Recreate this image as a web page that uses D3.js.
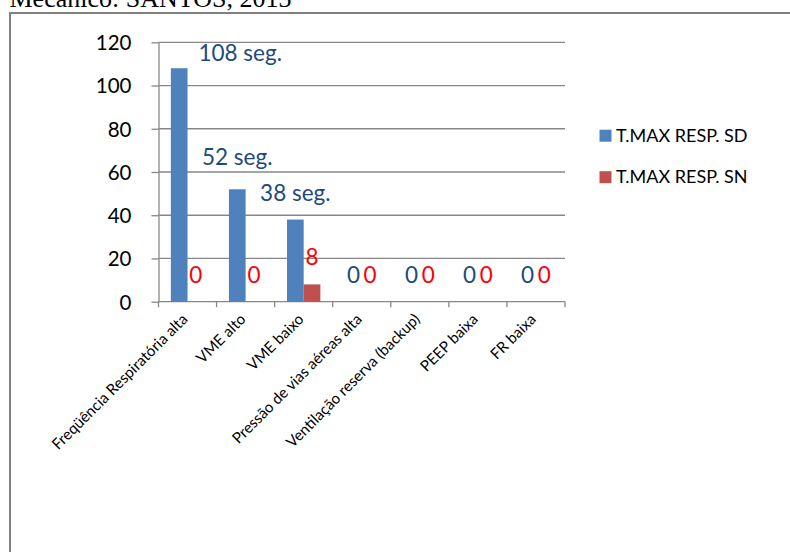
<!DOCTYPE html>
<html>
<head>
<meta charset="utf-8">
<script src="https://cdn.jsdelivr.net/npm/d3@7"></script>
<style>
  html, body { margin: 0; padding: 0; background: #fff; }
  svg { display: block; }
</style>
</head>
<body>
<svg id="chart" width="790" height="552"></svg>
<script>
// Alarm categories and the two response-time series
const categories = [
  "Freqüência Respiratória alta",
  "VME alto",
  "VME baixo",
  "Pressão de vias aéreas alta",
  "Ventilação reserva (backup)",
  "PEEP baixa",
  "FR baixa"
];
const seriesNames = ["T.MAX RESP. SD", "T.MAX RESP. SN"];
const sdValues = [108, 52, 38, 0, 0, 0, 0];
const snValues = [0, 0, 8, 0, 0, 0, 0];
const yTicks = [0, 20, 40, 60, 80, 100, 120];
const sourceNote = "Mecânico: SANTOS, 2013";

const svg = d3.select("#chart");
const FONT = "Lato, 'Open Sans', sans-serif";

// Frame and source line
svg.append("text")
  .attr("x", 9.5).attr("y", 7)
  .attr("font-family", "'Liberation Serif', 'Times New Roman', serif")
  .attr("font-size", 26)
  .attr("fill", "#000")
  .text(sourceNote);

svg.append("path")
  .attr("d", "M10,800 L10,13 L800,13")
  .attr("fill", "none")
  .attr("stroke", "#808080")
  .attr("stroke-width", 2);

// Plot area
const plot = { left: 158.5, right: 565, top: 42.3, bottom: 301.7 };

const x = d3.scaleBand()
  .domain(categories)
  .range([plot.left, plot.right])
  .paddingInner(0).paddingOuter(0);

const xSeries = d3.scaleBand()
  .domain(seriesNames)
  .range([0, x.bandwidth()])
  .paddingInner(0).paddingOuter(0.74);

const y = d3.scaleLinear()
  .domain([0, 120])
  .range([plot.bottom, plot.top]);

const gridColor = "#878787";

// Horizontal gridlines
svg.append("g")
  .selectAll("line")
  .data(yTicks.filter(d => d > 0))
  .join("line")
  .attr("x1", plot.left).attr("x2", plot.right)
  .attr("y1", d => y(d)).attr("y2", d => y(d))
  .attr("stroke", gridColor)
  .attr("stroke-width", 1.3);

// Y axis
const yAxis = svg.append("g")
  .attr("transform", `translate(${plot.left},0)`)
  .call(d3.axisLeft(y).tickValues(yTicks).tickSize(7).tickPadding(20).tickSizeOuter(0));
yAxis.select(".domain").attr("stroke", gridColor).attr("stroke-width", 1.3);
yAxis.selectAll(".tick line").attr("stroke", gridColor).attr("stroke-width", 1.3);
yAxis.selectAll(".tick text")
  .attr("font-family", FONT)
  .attr("font-size", 20.5)
  .attr("fill", "#000")
  .attr("dy", "0.36em");

// X axis with ticks on category boundaries
const xAxis = svg.append("g")
  .attr("transform", `translate(0,${plot.bottom})`);
xAxis.append("line")
  .attr("x1", plot.left).attr("x2", plot.right)
  .attr("y1", 0).attr("y2", 0)
  .attr("stroke", gridColor).attr("stroke-width", 1.3);
const boundaries = categories.map(c => x(c)).concat([x(categories[categories.length - 1]) + x.bandwidth()]);
xAxis.selectAll("line.tk")
  .data(boundaries)
  .join("line")
  .attr("class", "tk")
  .attr("x1", d => d).attr("x2", d => d)
  .attr("y1", 0).attr("y2", 5.5)
  .attr("stroke", gridColor).attr("stroke-width", 1.3);
xAxis.selectAll("text")
  .data(categories)
  .join("text")
  .attr("transform", d => `translate(${x(d) + x.bandwidth() / 2 + 1},${18.5}) rotate(-45)`)
  .attr("text-anchor", "end")
  .attr("font-family", FONT)
  .attr("font-size", 15.2)
  .attr("fill", "#000")
  .text(d => d);

// Bars
const colors = { "T.MAX RESP. SD": "#4F81BD", "T.MAX RESP. SN": "#C0504D" };
const seriesData = [
  { name: seriesNames[0], values: sdValues },
  { name: seriesNames[1], values: snValues }
];

const groups = svg.append("g")
  .selectAll("g")
  .data(seriesData)
  .join("g")
  .attr("fill", d => colors[d.name]);

groups.selectAll("rect")
  .data(s => s.values.map((v, i) => ({ cat: categories[i], v, name: s.name })))
  .join("rect")
  .attr("x", d => x(d.cat) + xSeries(d.name))
  .attr("y", d => y(d.v))
  .attr("width", xSeries.bandwidth())
  .attr("height", d => y(0) - y(d.v));

// Data labels (SD labels carry the unit when non-zero)
const labelStyle = {
  "T.MAX RESP. SD": { color: "#1F497D", fmt: v => v > 0 ? `${v} seg.` : `${v}` },
  "T.MAX RESP. SN": { color: "#FF0000", fmt: v => `${v}` }
};
// Manual nudges for labels moved off their default spot
const sdLabelNudge = [[61, 11.6], [0, -5.4], [0, 0], [0, 0], [0, 0], [0, 0], [0, 0]];
const snLabelNudge = [[0, 0], [0, 0], [0, 0], [0, 0], [0, 0], [0, 0], [0, 0]];
const nudges = { "T.MAX RESP. SD": sdLabelNudge, "T.MAX RESP. SN": snLabelNudge };

svg.append("g")
  .selectAll("g")
  .data(seriesData)
  .join("g")
  .selectAll("text")
  .data(s => s.values.map((v, i) => ({ cat: categories[i], v, name: s.name, i })))
  .join("text")
  .attr("x", d => x(d.cat) + xSeries(d.name) + xSeries.bandwidth() / 2 + nudges[d.name][d.i][0])
  .attr("y", d => y(d.v) - 19 + nudges[d.name][d.i][1])
  .attr("text-anchor", "middle")
  .attr("font-family", FONT)
  .attr("font-size", 22.5)
  .attr("fill", d => labelStyle[d.name].color)
  .text(d => labelStyle[d.name].fmt(d.v));

// Legend
const legend = svg.append("g")
  .attr("transform", "translate(599.5,129.7)");
const legendItems = legend.selectAll("g")
  .data(seriesNames)
  .join("g")
  .attr("transform", (d, i) => `translate(0,${i * 41.5})`);
legendItems.append("rect")
  .attr("width", 12).attr("height", 12)
  .attr("fill", d => colors[d]);
legendItems.append("text")
  .attr("x", 16.5).attr("y", 12)
  .attr("font-family", FONT)
  .attr("font-size", 18)
  .attr("fill", "#000")
  .text(d => d);
</script>
</body>
</html>
